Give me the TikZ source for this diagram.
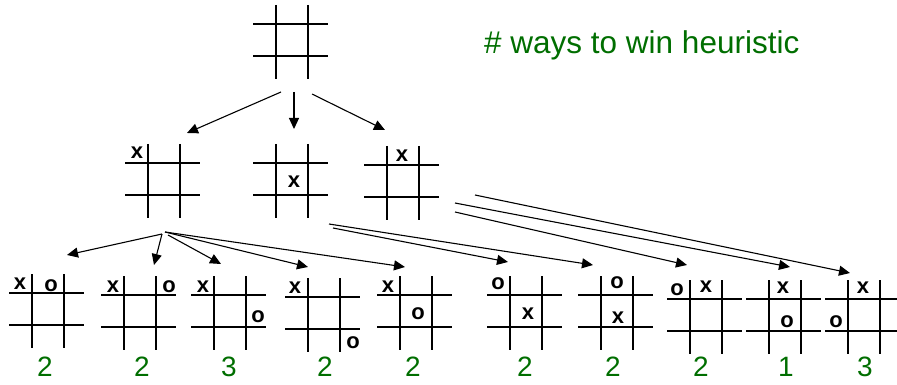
\documentclass[tikz,border=0pt]{standalone}
\usepackage{fontspec}
\setmainfont{Liberation Sans}
\usetikzlibrary{arrows.meta}
\definecolor{wingreen}{RGB}{0,110,0}
\tikzset{
  gridline/.style={line width=1.2pt, black},
  arr/.style={line width=1.1pt, -{Triangle[length=11pt,width=10pt]}},
  xomark/.style={font=\fontsize{22}{22}\selectfont\bfseries, inner sep=0pt, anchor=center},
  score/.style={font=\fontsize{28}{28}\selectfont, text=wingreen, inner sep=0pt, anchor=center},
  board/.pic={\draw[gridline] (0,-19) -- (0,55) (32,-19) -- (32,55) (-23,0) -- (52,0) (-23,32) -- (52,32);}
}
\begin{document}
\begin{tikzpicture}[x=1pt,y=-1pt]
\useasboundingbox (0,0) rectangle (897,385);
\begin{scope}
\clip (0,0) rectangle (897,385);
% boards
\pic at (276,24) {board};
\pic at (148,163) {board};
\pic at (276,163) {board};
\pic at (387,165) {board};
\pic at (32,293) {board};
\pic at (124,295) {board};
\pic at (214,295) {board};
\pic at (308,297) {board};
\pic at (400,295) {board};
\pic at (510,295) {board};
\pic at (601,295) {board};
\pic at (690,299) {board};
\pic at (769,299) {board};
\pic at (848,299) {board};
\end{scope}
% title
\node[anchor=base west, inner sep=0pt, text=wingreen, font=\fontsize{31.5}{31.5}\selectfont] (title) at (484,54) {\# ways to win heuristic};
% marks level 2
\node[xomark] (ma) at (137,153) {x};
\node[xomark] (mb) at (294,182) {x};
\node[xomark] (mc) at (402,156) {x};
% marks level 3
\node[xomark] (m1x) at (20,284) {x};
\node[xomark] (m1o) at (51,286) {o};
\node[xomark] (m2x) at (113,287) {x};
\node[xomark] (m2o) at (169,287) {o};
\node[xomark] (m3x) at (203,287) {x};
\node[xomark] (m3o) at (258,317) {o};
\node[xomark] (m4x) at (295,288) {x};
\node[xomark] (m4o) at (353,343) {o};
\node[xomark] (m5x) at (388,287) {x};
\node[xomark] (m5o) at (418,314) {o};
\node[xomark] (m6o) at (498,284) {o};
\node[xomark] (m6x) at (528,314) {x};
\node[xomark] (m7o) at (617,283) {o};
\node[xomark] (m7x) at (618,318) {x};
\node[xomark] (m8o) at (677,290) {o};
\node[xomark] (m8x) at (706,287) {x};
\node[xomark] (m9x) at (783,288) {x};
\node[xomark] (m9o) at (787,322) {o};
\node[xomark] (m10x) at (863,288) {x};
\node[xomark] (m10o) at (836,322) {o};
% scores
\node[score] (s1) at (45,366.5) {2};
\node[score] (s2) at (142,366.5) {2};
\node[score] (s3) at (229,366.5) {3};
\node[score] (s4) at (325,366.5) {2};
\node[score] (s5) at (413,366.5) {2};
\node[score] (s6) at (525,366.5) {2};
\node[score] (s7) at (613,366.5) {2};
\node[score] (s8) at (701,366.5) {2};
\node[score] (s9) at (786,366.5) {1};
\node[score] (s10) at (865,366.5) {3};
% arrow coordinates
\coordinate (r1) at (281,92);  \coordinate (ta) at (187,133);
\coordinate (r2) at (294,92);  \coordinate (tb) at (294,129);
\coordinate (r3) at (312,94);  \coordinate (tc) at (385,130);
\coordinate (a1) at (162,234); \coordinate (t1) at (67,255);
\coordinate (a2) at (162,234); \coordinate (t2) at (154,265);
\coordinate (a3) at (168,235); \coordinate (t3) at (221,264);
\coordinate (a4) at (165,232); \coordinate (t4) at (308,267);
\coordinate (a5) at (165,232); \coordinate (t5) at (405,267);
\coordinate (b6) at (333,228); \coordinate (t6) at (508,262);
\coordinate (b7) at (329,224); \coordinate (t7) at (593,265);
\coordinate (c8) at (455,212); \coordinate (t8) at (687,265);
\coordinate (c9) at (455,203); \coordinate (t9) at (790,267);
\coordinate (c10) at (475,195); \coordinate (t10) at (850,273);
\foreach \s/\t in {r1/ta,r2/tb,r3/tc,a1/t1,a2/t2,a3/t3,a4/t4,a5/t5,b6/t6,b7/t7,c8/t8,c9/t9,c10/t10}
  \draw[arr] (\s) -- (\t);
\end{tikzpicture}
\end{document}
